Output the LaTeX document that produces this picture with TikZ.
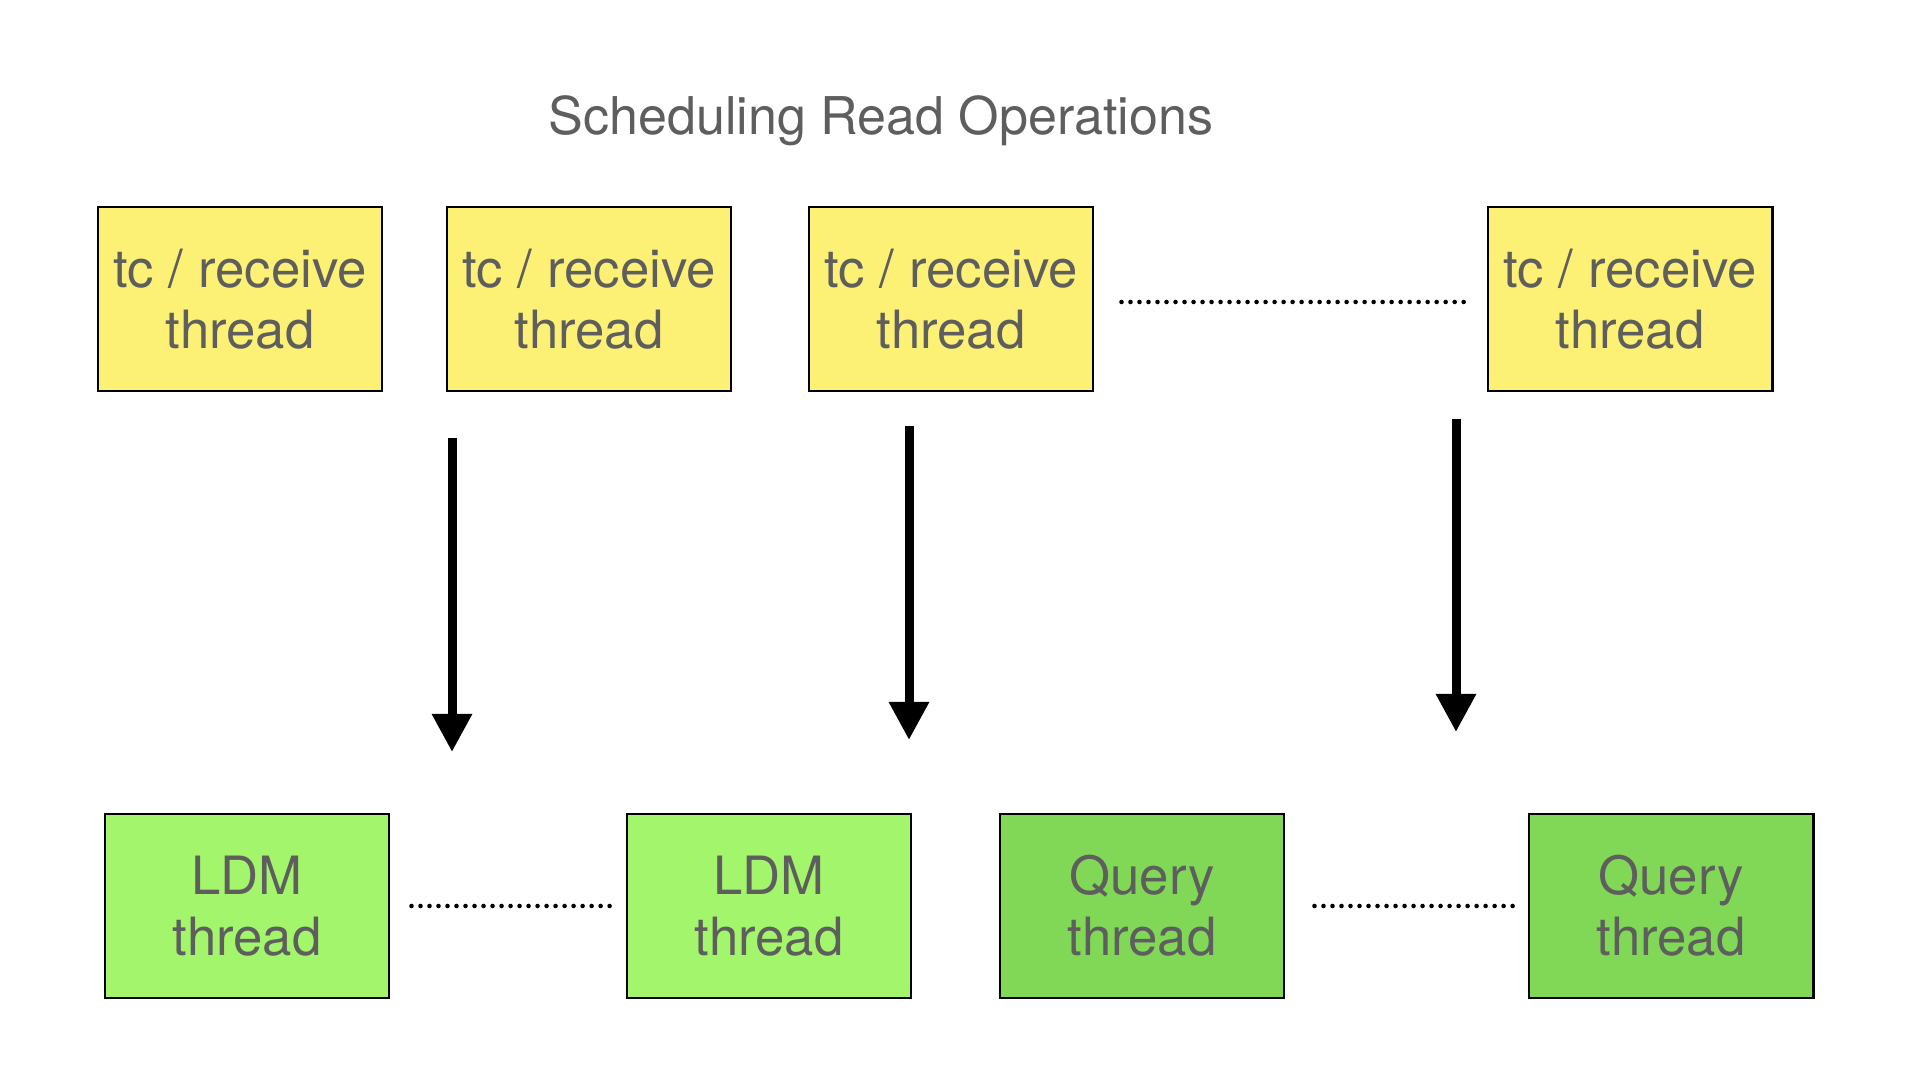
\documentclass[tikz,border=0pt]{standalone}
\usepackage{fontspec}
\setmainfont{TeX Gyre Heros}
\usetikzlibrary{arrows.meta}
\definecolor{recvyellow}{RGB}{253,241,117}
\definecolor{ldmgreen}{RGB}{163,245,107}
\definecolor{querygreen}{RGB}{128,216,86}
\definecolor{textgrey}{RGB}{94,94,94}
\tikzset{
    threadbox/.style={draw=black, line width=0.8pt, minimum width=2.84cm, minimum height=1.84cm,
        text=textgrey, font=\fontsize{15}{17.4}\selectfont, align=center, inner sep=0pt},
    recvbox/.style={threadbox, fill=recvyellow},
    ldmbox/.style={threadbox, fill=ldmgreen},
    querybox/.style={threadbox, fill=querygreen},
    sendarrow/.style={line width=0.09cm, -{Triangle[width=0.38cm,length=0.38cm]}},
    gapdots/.style={line width=1.3pt, dash pattern=on 0pt off 0.09cm, line cap=round}
}
\begin{document}
\begin{tikzpicture}[x=0.01cm, y=-0.01cm]
    \useasboundingbox (0,0) rectangle (1920,1080);

    % Title
    \node[text=textgrey, font=\fontsize{14.8}{17}\selectfont] (title) at (881,121) {Scheduling Read Operations};

    % tc / receive threads
    \node[recvbox] (recv1) at (240,299) {tc / receive\\thread};
    \node[recvbox] (recv2) at (589,299) {tc / receive\\thread};
    \node[recvbox] (recv3) at (951,299) {tc / receive\\thread};
    \node[recvbox] (recv4) at (1630,299) {tc / receive\\thread};

    % LDM and Query threads
    \node[ldmbox] (ldm1) at (247,906) {LDM\\thread};
    \node[ldmbox] (ldm2) at (769,906) {LDM\\thread};
    \node[querybox] (query1) at (1142,906) {Query\\thread};
    \node[querybox] (query2) at (1671,906) {Query\\thread};

    % Dotted gaps
    \draw[gapdots] (recv3.east) ++(27,3) coordinate (dotsA) -- (1467,302) coordinate (dotsB);
    \draw[gapdots] (ldm1.east) ++(21,0) coordinate (dotsC) -- (612,906) coordinate (dotsD);
    \draw[gapdots] (query1.east) ++(29,0) coordinate (dotsE) -- (1516,906) coordinate (dotsF);

    % Arrows
    \coordinate (arrA1) at (452,438);
    \coordinate (arrA2) at (452,752);
    \coordinate (arrB1) at (909,426);
    \coordinate (arrB2) at (909,740);
    \coordinate (arrC1) at (1456,419);
    \coordinate (arrC2) at (1456,732);
    \draw[sendarrow] (arrA1) -- (arrA2);
    \draw[sendarrow] (arrB1) -- (arrB2);
    \draw[sendarrow] (arrC1) -- (arrC2);
\end{tikzpicture}
\end{document}
